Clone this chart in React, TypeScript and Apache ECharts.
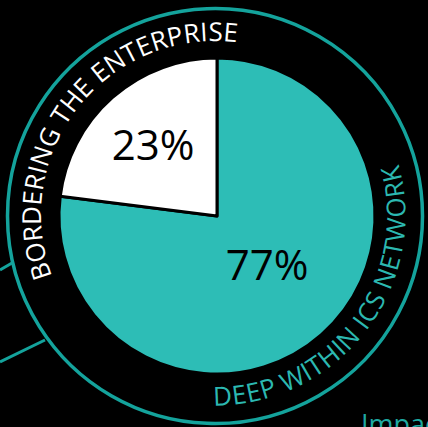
import React, { useEffect, useRef } from "react";
import * as echarts from "echarts";

// ---- data ----
const categories = ["Deep within ICS network", "Bordering the enterprise"];
const shares = [77, 23];
const sliceColors = ["#2dbdb6", "#ffffff"];
const topArcText = "BORDERING THE ENTERPRISE";
const bottomArcText = "DEEP WITHIN ICS NETWORK";
const footerText = "Impact";

// ---- layout ----
const W = 428;
const H = 427;
const PIE_C = [217, 216];
const PIE_R = 158;
const RING_C = [215, 216];
const RING_R = 207.5;
const TEXT_C = [215, 215];
const RING_COLOR = "#14a39c";
const FONT = "'Open Sans', 'Segoe UI', sans-serif";
const LABEL_OFFSETS = [
  [50, 47],
  [-64, -73],
];

function measureChars(text: string, size: number): number[] {
  const canvas = document.createElement("canvas");
  const ctx = canvas.getContext("2d");
  if (!ctx) return text.split("").map(() => size * 0.6);
  ctx.font = `${size}px 'Open Sans'`;
  return text.split("").map((ch) => ctx.measureText(ch).width);
}

function arcText(
  text: string,
  cx: number,
  cy: number,
  r: number,
  startDeg: number,
  endDeg: number,
  size: number,
  color: string,
  topsOutward: boolean
) {
  const widths = measureChars(text, size);
  const total = widths.reduce((a, b) => a + b, 0);
  const spanRad = (Math.abs(endDeg - startDeg) * Math.PI) / 180;
  const L = spanRad * r;
  const gap = (L - total) / (text.length - 1);
  const dir = endDeg > startDeg ? 1 : -1;
  const els: any[] = [];
  let s = 0;
  text.split("").forEach((ch, i) => {
    const mid = s + widths[i] / 2;
    s += widths[i] + gap;
    if (ch === " ") return;
    const th = (startDeg * Math.PI) / 180 + (dir * mid) / r;
    const x = cx + r * Math.cos(th);
    const y = cy - r * Math.sin(th);
    const rot = topsOutward ? th - Math.PI / 2 : th + Math.PI / 2;
    els.push({
      type: "text",
      x,
      y,
      rotation: rot,
      silent: true,
      style: {
        text: ch,
        fill: color,
        font: `${size}px ${FONT}`,
        align: "center",
        verticalAlign: "middle",
        textAlign: "center",
        textVerticalAlign: "middle",
      },
    });
  });
  return els;
}

export default function App() {
  const ref = useRef<HTMLDivElement>(null);
  useEffect(() => {
    if (!ref.current) return;
    const chart = echarts.init(ref.current, undefined, { renderer: "svg" });
    const graphics: any[] = [
      {
        type: "circle",
        shape: { cx: RING_C[0], cy: RING_C[1], r: RING_R },
        style: { fill: "none", stroke: RING_COLOR, lineWidth: 3.5 },
        silent: true,
        z: 1,
      },
      {
        type: "line",
        shape: { x1: 0, y1: 270, x2: 12, y2: 263 },
        style: { stroke: RING_COLOR, lineWidth: 3 },
        silent: true,
      },
      {
        type: "line",
        shape: { x1: 0, y1: 362, x2: 45, y2: 340 },
        style: { stroke: RING_COLOR, lineWidth: 3 },
        silent: true,
      },
      ...arcText(topArcText, TEXT_C[0], TEXT_C[1], 184, 200.5, 82.8, 26, "#ffffff", true),
      ...arcText(bottomArcText, TEXT_C[0], TEXT_C[1], 180.5, -90.6, 15.6, 26, "#2cb8b1", false),
      {
        type: "text",
        x: 361,
        y: 423,
        silent: true,
        style: {
          text: footerText,
          fill: "#1fa9a1",
          font: `27px ${FONT}`,
          align: "left",
          verticalAlign: "middle",
          textAlign: "left",
          textVerticalAlign: "middle",
        },
      },
    ];
    chart.setOption({
      animation: false,
      backgroundColor: "#000000",
      graphic: { elements: graphics },
      series: [
        {
          type: "pie",
          center: PIE_C,
          radius: [0, PIE_R],
          startAngle: 90,
          clockwise: true,
          silent: true,
          itemStyle: { borderColor: "#000000", borderWidth: 3 },
          label: {
            show: true,
            position: "inside",
            formatter: "{c}%",
            color: "#000000",
            fontSize: 42,
            fontFamily: FONT,
          },
          labelLine: { show: false },
          labelLayout: (params: any) => ({
            x: PIE_C[0] + LABEL_OFFSETS[params.dataIndex][0],
            y: PIE_C[1] + LABEL_OFFSETS[params.dataIndex][1],
          }),
          data: categories.map((name, i) => ({
            name,
            value: shares[i],
            itemStyle: { color: sliceColors[i] },
          })),
        },
      ],
    });
    return () => chart.dispose();
  }, []);
  return (
    <div
      ref={ref}
      style={{ position: "absolute", left: 0, top: 0, width: W, height: H, background: "#000" }}
    />
  );
}
